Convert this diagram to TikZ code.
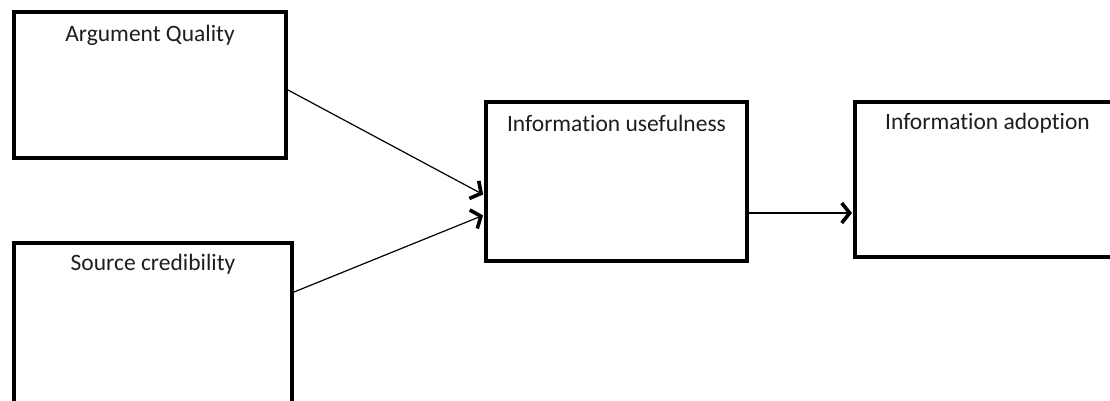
\documentclass[tikz,border=0pt]{standalone}
\usepackage{fontspec}
\setmainfont{Carlito}[Ligatures={NoCommon}]
\usetikzlibrary{arrows.meta}
\definecolor{txt}{HTML}{1E1E1E}
\tikzset{
  boxst/.style={draw=black, line width=4pt, fill=white, inner sep=0pt},
  lab/.style={font=\fontsize{23.5}{26}\selectfont, text=txt, inner sep=0pt, anchor=center},
  arr/.style={line width=1.2pt, -{Straight Barb[length=8pt,width=20pt,line width=3.6pt]}, shorten >=1pt}
}
\begin{document}
\begin{tikzpicture}[x=1pt,y=-1pt]
\useasboundingbox (0,0) rectangle (1110,401);
\node[boxst, minimum width=272pt, minimum height=146pt] (aq) at (150,85) {};
\node[lab] (aqt) at ([yshift=-25pt]aq.north) {Argument Quality};
\node[boxst, minimum width=278pt, minimum height=187pt] (sc) at (153,336.5) {};
\node[lab] (sct) at ([yshift=-23pt]sc.north) {Source credibility};
\node[boxst, minimum width=261pt, minimum height=159pt] (iu) at (616.5,181.5) {};
\node[lab] (iut) at ([yshift=-23pt]iu.north) {Information usefulness};
\node[boxst, minimum width=265pt, minimum height=155pt] (ia) at (987.5,179.5) {};
\node[lab] (iat) at ([yshift=-23pt]ia.north) {Information adoption};
\draw[arr] ([yshift=-5pt]aq.east) -- ([yshift=-13.5pt]iu.west);
\draw[arr] ([yshift=44.5pt]sc.east) -- ([yshift=-33.5pt]iu.west);
\draw[arr] ([yshift=-31.5pt]iu.east) -- ([yshift=-31.5pt]iu.east -| ia.west);
\end{tikzpicture}
\end{document}
